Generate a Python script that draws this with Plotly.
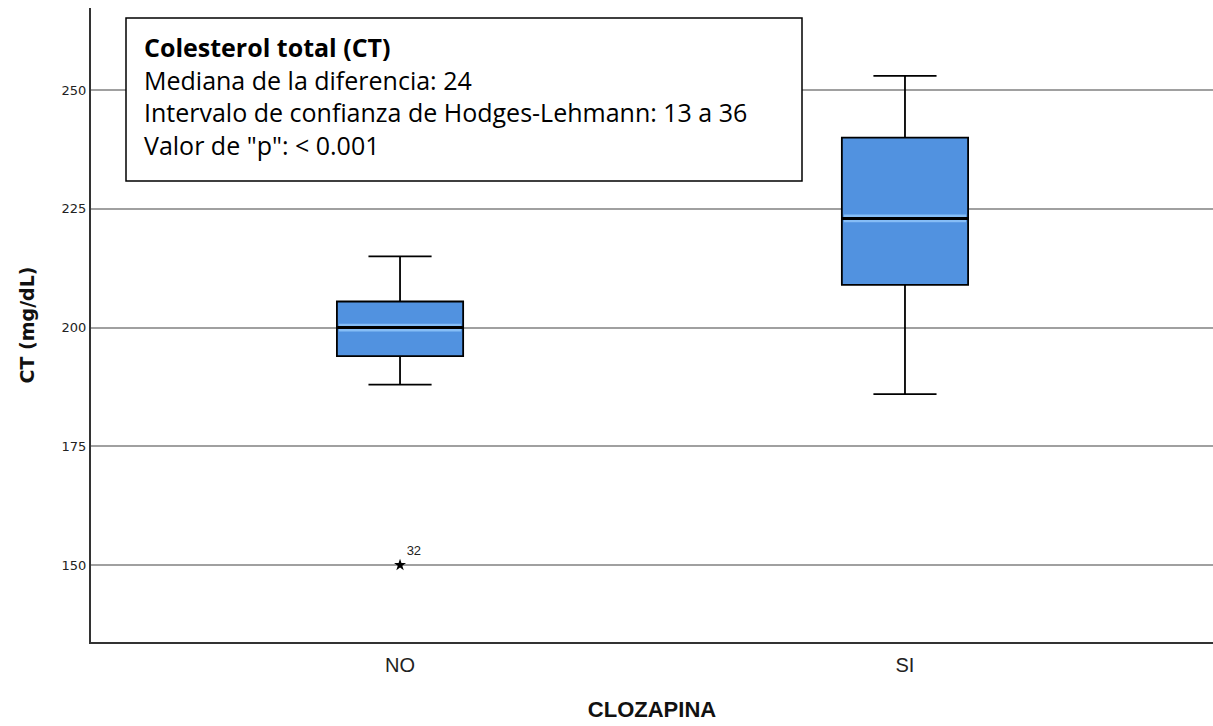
import plotly.graph_objects as go

categories = ["NO", "SI"]
q1 = [194, 209]
median = [200, 223]
q3 = [205.5, 240]
lower_whisker = [188, 186]
upper_whisker = [215, 253]
outlier_group = ["NO"]
outlier_value = [150]
outlier_label = ["32"]

xpos = {c: i for i, c in enumerate(categories)}
BOX_W = 0.25

fig = go.Figure()
fig.add_trace(go.Box(
    x=[xpos[c] for c in categories],
    q1=q1, median=median, q3=q3,
    lowerfence=lower_whisker, upperfence=upper_whisker,
    width=BOX_W, whiskerwidth=0.5,
    fillcolor="#5192e0",
    line=dict(color="black", width=1.8),
    boxpoints=False, showlegend=False, hoverinfo="skip",
))
# median highlight + thicker median line
for i, c in enumerate(categories):
    xs = [xpos[c] - BOX_W / 2 + 0.004, xpos[c] + BOX_W / 2 - 0.004]
    for off in (0.55, -0.55):
        fig.add_trace(go.Scatter(
            x=xs, y=[median[i] + off] * 2, mode="lines",
            line=dict(color="#86bdf6", width=2.5),
            showlegend=False, hoverinfo="skip"))
    fig.add_trace(go.Scatter(
        x=[xpos[c] - BOX_W / 2, xpos[c] + BOX_W / 2], y=[median[i], median[i]],
        mode="lines", line=dict(color="black", width=3),
        showlegend=False, hoverinfo="skip"))
fig.add_trace(go.Scatter(
    x=[xpos[c] for c in outlier_group], y=outlier_value,
    mode="markers+text", text=outlier_label, textposition="top right",
    textfont=dict(family="Liberation Sans, Arial", size=13, color="#222"),
    marker=dict(symbol="star", size=9, color="black"),
    showlegend=False, hoverinfo="skip"))

fig.update_layout(
    width=1213, height=726,
    margin=dict(l=91, r=0, t=8, b=84),
    plot_bgcolor="white", paper_bgcolor="white",
    font=dict(family="Liberation Sans, Arial", color="#222"),
    xaxis=dict(
        tickmode="array", tickvals=[xpos[c] for c in categories], ticktext=categories,
        range=[-0.612, 1.61], showgrid=False, zeroline=False,
        showline=True, linecolor="#333", linewidth=2,
        tickfont=dict(family="Liberation Sans, Arial", size=20, color="#222"), ticks="",
        ticklabelstandoff=4,
        title=dict(text="<b>CLOZAPINA</b>",
                   font=dict(family="Liberation Sans, Arial", size=22, color="#111"),
                   standoff=27),
    ),
    yaxis=dict(
        range=[133.8, 267.3], tickvals=[150, 175, 200, 225, 250],
        showgrid=True, gridcolor="#a0a0a0", gridwidth=1.5, zeroline=False,
        showline=True, linecolor="#333", linewidth=2, ticks="",
        ticklabelstandoff=0,
        tickfont=dict(family="DejaVu Sans", size=13, color="#222"),
        title=dict(text="<b>CT (mg/dL)</b>",
                   font=dict(family="DejaVu Sans", size=19, color="#111"),
                   standoff=22),
    ),
)

# info box frame
fig.add_shape(
    type="rect", xref="paper", yref="paper",
    x0=(126 - 91) / 1122, x1=(802 - 91) / 1122,
    y0=(642 - 181) / 634, y1=(642 - 18) / 634,
    line=dict(color="black", width=1.5), fillcolor="white", layer="above",
)
fig.add_annotation(
    xref="paper", yref="paper", x=(143 - 91) / 1122, y=(642 - 29) / 634,
    xanchor="left", yanchor="top",
    text=("<b>Colesterol total (CT)</b><br>Mediana de la diferencia: 24<br>"
          "Intervalo de confianza de Hodges-Lehmann: 13 a 36<br>"
          "Valor de \"p\": < 0.001"),
    align="left", valign="top", showarrow=False,
    font=dict(family="Open Sans", size=25, color="black"),
    borderpad=0,
)

fig.write_html("out.html", config={"displayModeBar": False},
               post_script="document.body.style.margin='0';")
